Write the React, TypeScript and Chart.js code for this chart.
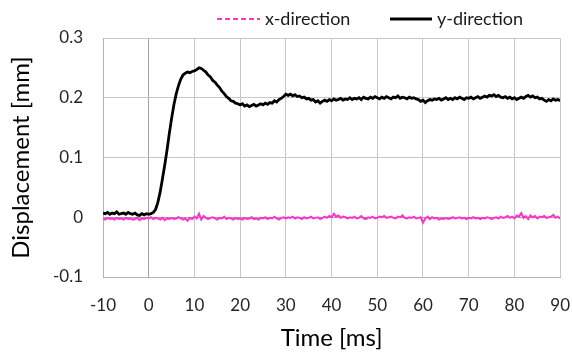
import { useEffect, useRef } from "react";
import { Chart, registerables } from "chart.js";

Chart.register(...registerables);

// Sample times [ms]
const timeMs = [
  -10, -9.5, -9, -8.5, -8, -7.5, -7, -6.5, -6, -5.5,
  -5, -4.5, -4, -3.5, -3, -2.5, -2, -1.5, -1, -0.5,
  0, 0.5, 1, 1.5, 2, 2.5, 3, 3.5, 4, 4.5,
  5, 5.5, 6, 6.5, 7, 7.5, 8, 8.5, 9, 9.5,
  10, 10.5, 11, 11.5, 12, 12.5, 13, 13.5, 14, 14.5,
  15, 15.5, 16, 16.5, 17, 17.5, 18, 18.5, 19, 19.5,
  20, 20.5, 21, 21.5, 22, 22.5, 23, 23.5, 24, 24.5,
  25, 25.5, 26, 26.5, 27, 27.5, 28, 28.5, 29, 29.5,
  30, 30.5, 31, 31.5, 32, 32.5, 33, 33.5, 34, 34.5,
  35, 35.5, 36, 36.5, 37, 37.5, 38, 38.5, 39, 39.5,
  40, 40.5, 41, 41.5, 42, 42.5, 43, 43.5, 44, 44.5,
  45, 45.5, 46, 46.5, 47, 47.5, 48, 48.5, 49, 49.5,
  50, 50.5, 51, 51.5, 52, 52.5, 53, 53.5, 54, 54.5,
  55, 55.5, 56, 56.5, 57, 57.5, 58, 58.5, 59, 59.5,
  60, 60.5, 61, 61.5, 62, 62.5, 63, 63.5, 64, 64.5,
  65, 65.5, 66, 66.5, 67, 67.5, 68, 68.5, 69, 69.5,
  70, 70.5, 71, 71.5, 72, 72.5, 73, 73.5, 74, 74.5,
  75, 75.5, 76, 76.5, 77, 77.5, 78, 78.5, 79, 79.5,
  80, 80.5, 81, 81.5, 82, 82.5, 83, 83.5, 84, 84.5,
  85, 85.5, 86, 86.5, 87, 87.5, 88, 88.5, 89, 89.5,
  90,
];

// x-direction displacement [mm]
const xDirection = [
  -0.002, -0.004, -0.001, -0.003, -0.002, -0.004, -0.001, -0.003, -0.002, -0.004,
  -0.001, -0.003, -0.002, -0.004, -0.003, -0.001, -0.005, -0.002, -0.003, -0.001,
  -0.002, 0.0, -0.003, -0.001, -0.002, -0.004, -0.001, -0.005, -0.002, -0.003,
  -0.001, -0.003, -0.002, 0.0, -0.002, -0.004, -0.002, -0.006, -0.001, -0.003,
  0.001, -0.002, 0.006, -0.004, 0.002, -0.001, -0.003, -0.001, 0.0, -0.002,
  -0.004, -0.001, -0.002, 0.001, -0.003, -0.001, -0.002, -0.004, -0.001, -0.003,
  -0.002, -0.004, -0.001, -0.003, -0.002, 0.0, -0.003, -0.002, -0.004, -0.001,
  -0.002, 0.0, -0.003, -0.001, -0.002, 0.001, -0.002, -0.004, -0.001, 0.0,
  -0.002, 0.0, -0.001, 0.001, -0.002, 0.0, -0.001, -0.003, 0.0, -0.002,
  -0.001, 0.001, -0.002, -0.001, 0.0, -0.003, -0.001, 0.001, -0.001, 0.002,
  0.0, 0.006, 0.001, 0.003, -0.001, 0.001, 0.0, -0.002, 0.0, -0.001,
  0.001, -0.002, -0.001, 0.002, -0.002, -0.003, 0.0, -0.001, 0.001, -0.002,
  -0.001, 0.001, 0.0, 0.002, -0.001, 0.0, 0.001, -0.001, -0.002, 0.001,
  0.0, 0.003, -0.001, -0.002, 0.0, -0.001, 0.001, -0.002, -0.001, 0.0,
  -0.009, -0.002, 0.001, -0.003, 0.0, -0.002, -0.001, -0.004, -0.002, -0.003,
  -0.001, -0.003, -0.002, 0.0, -0.002, -0.001, 0.0, -0.002, -0.001, -0.003,
  -0.001, -0.002, 0.0, -0.002, -0.001, -0.003, -0.001, -0.002, 0.0, -0.001,
  -0.003, -0.001, 0.0, -0.002, 0.001, -0.001, 0.0, 0.002, -0.001, 0.001,
  -0.002, 0.003, 0.001, 0.007, -0.001, 0.002, -0.003, 0.003, 0.0, 0.002,
  -0.002, 0.001, 0.0, 0.002, -0.001, 0.0, 0.001, 0.004, -0.001, 0.001,
  -0.002,
];

// y-direction displacement [mm]
const yDirection = [
  0.007, 0.006, 0.008, 0.005, 0.007, 0.006, 0.009, 0.005, 0.006, 0.007,
  0.005, 0.008, 0.006, 0.005, 0.007, 0.004, 0.003, 0.006, 0.004, 0.006,
  0.005, 0.006, 0.008, 0.013, 0.025, 0.042, 0.064, 0.087, 0.112, 0.14,
  0.165, 0.188, 0.206, 0.22, 0.231, 0.238, 0.241, 0.243, 0.242, 0.244,
  0.245, 0.247, 0.25, 0.249, 0.246, 0.243, 0.238, 0.235, 0.229, 0.226,
  0.221, 0.217, 0.211, 0.207, 0.202, 0.199, 0.195, 0.194, 0.191, 0.19,
  0.188, 0.19, 0.186, 0.188, 0.185, 0.187, 0.189, 0.186, 0.188, 0.19,
  0.188, 0.191, 0.189, 0.192, 0.191, 0.195, 0.193, 0.197, 0.199, 0.202,
  0.206, 0.204, 0.206, 0.203, 0.205, 0.202, 0.203, 0.2, 0.201, 0.198,
  0.199, 0.196, 0.197, 0.193, 0.195, 0.191, 0.194, 0.196, 0.194, 0.197,
  0.195, 0.198, 0.196, 0.197, 0.199, 0.196, 0.198, 0.197, 0.2, 0.197,
  0.199, 0.198, 0.2, 0.197, 0.201, 0.199, 0.198, 0.201, 0.199, 0.202,
  0.2, 0.198, 0.201, 0.199, 0.202, 0.2, 0.198, 0.201, 0.2, 0.203,
  0.199, 0.201, 0.2, 0.198, 0.201, 0.199, 0.2, 0.198, 0.197, 0.194,
  0.196, 0.192, 0.195, 0.197, 0.196, 0.198, 0.197, 0.199, 0.196, 0.198,
  0.2, 0.197, 0.199, 0.197, 0.2, 0.198, 0.201, 0.199, 0.197, 0.2,
  0.199, 0.201, 0.198, 0.2, 0.202, 0.199, 0.201, 0.203, 0.201, 0.204,
  0.203, 0.205, 0.202, 0.204, 0.201, 0.2, 0.202, 0.199, 0.201, 0.198,
  0.2, 0.197, 0.199, 0.201, 0.199, 0.202, 0.204, 0.201, 0.203, 0.2,
  0.201, 0.198, 0.199, 0.196, 0.194, 0.197, 0.195, 0.198, 0.196, 0.197,
  0.195,
];

const seriesLabels = ["x-direction", "y-direction"];
const xAxisRange = [-10, 90];
const yAxisRange = [-0.1, 0.3];
const xTitle = "Time [ms]";
const yTitle = "Displacement [mm]";

const FONT = "Lato, 'Open Sans', sans-serif";
const GRID = "#c8c8c8";
const GRID_ZERO = "#a0a0a0";

const customLegend = {
  id: "customLegend",
  afterDraw(chart: any) {
    const ctx = chart.ctx;
    const items = [
      { x0: 217, x1: 260, tx: 265, dash: [5, 3] },
      { x0: 390, x1: 432, tx: 437, dash: [] },
    ];
    const y = 19;
    ctx.save();
    chart.data.datasets.forEach((ds: any, i: number) => {
      const it = items[i];
      ctx.beginPath();
      ctx.setLineDash(it.dash);
      ctx.strokeStyle = ds.borderColor;
      ctx.lineWidth = ds.borderWidth;
      ctx.moveTo(it.x0, y);
      ctx.lineTo(it.x1, y);
      ctx.stroke();
      ctx.setLineDash([]);
      ctx.fillStyle = "#1a1a1a";
      ctx.font = `18px ${FONT}`;
      ctx.textBaseline = "middle";
      ctx.textAlign = "left";
      ctx.fillText(ds.label, it.tx, y);
    });
    ctx.restore();
  },
};

const gridColor = (c: any) => (c.tick && Math.abs(c.tick.value) < 1e-9 ? GRID_ZERO : GRID);

export default function App() {
  const ref = useRef<HTMLCanvasElement | null>(null);

  useEffect(() => {
    if (!ref.current) return;
    const chart = new Chart(ref.current, {
      type: "line",
      data: {
        datasets: [
          {
            label: seriesLabels[0],
            data: timeMs.map((t, i) => ({ x: t, y: xDirection[i] })),
            borderColor: "#ff33cc",
            borderWidth: 2,
            pointRadius: 0,
            tension: 0,
            order: 2,
          },
          {
            label: seriesLabels[1],
            data: timeMs.map((t, i) => ({ x: t, y: yDirection[i] })),
            borderColor: "#000000",
            borderWidth: 2.8,
            pointRadius: 0,
            tension: 0,
            order: 1,
          },
        ],
      },
      options: {
        animation: false,
        responsive: false,
        maintainAspectRatio: false,
        devicePixelRatio: 1,
        layout: { padding: { top: 38, right: 11, left: 0, bottom: 0 } },
        plugins: {
          legend: { display: false },
          tooltip: { enabled: false },
        },
        scales: {
          x: {
            type: "linear",
            min: xAxisRange[0],
            max: xAxisRange[1],
            afterFit: (s: any) => {
              s.height = 79;
            },
            ticks: {
              stepSize: 10,
              color: "#262626",
              font: { family: FONT, size: 17 },
              padding: 2,
              maxRotation: 0,
            },
            grid: {
              color: gridColor,
              lineWidth: 1,
              drawTicks: true,
              tickLength: 16,
              tickColor: "rgba(0,0,0,0)",
            },
            border: { color: "#b4b4b4" },
            title: {
              display: true,
              text: xTitle,
              color: "#000",
              font: { family: FONT, size: 24 },
              padding: { top: 0, bottom: 3 },
            },
          },
          y: {
            type: "linear",
            min: yAxisRange[0],
            max: yAxisRange[1],
            afterFit: (s: any) => {
              s.width = 103;
            },
            ticks: {
              stepSize: 0.1,
              color: "#262626",
              font: { family: FONT, size: 17 },
              padding: 20,
              callback: (v: any) => {
                const n = Number(v);
                if (Math.abs(n) < 1e-9) return "0";
                return n.toFixed(1);
              },
            },
            grid: { color: gridColor, lineWidth: 1, drawTicks: false },
            border: { color: "#b4b4b4" },
            title: {
              display: true,
              text: yTitle,
              color: "#000",
              font: { family: FONT, size: 24 },
              padding: { top: 7, bottom: 0 },
            },
          },
        },
      },
      plugins: [customLegend],
    });
    return () => chart.destroy();
  }, []);

  return (
    <div style={{ position: "absolute", left: 0, top: 0, width: 572, height: 356, background: "#fff" }}>
      <canvas ref={ref} width={572} height={356} style={{ display: "block", width: 572, height: 356 }} />
    </div>
  );
}
